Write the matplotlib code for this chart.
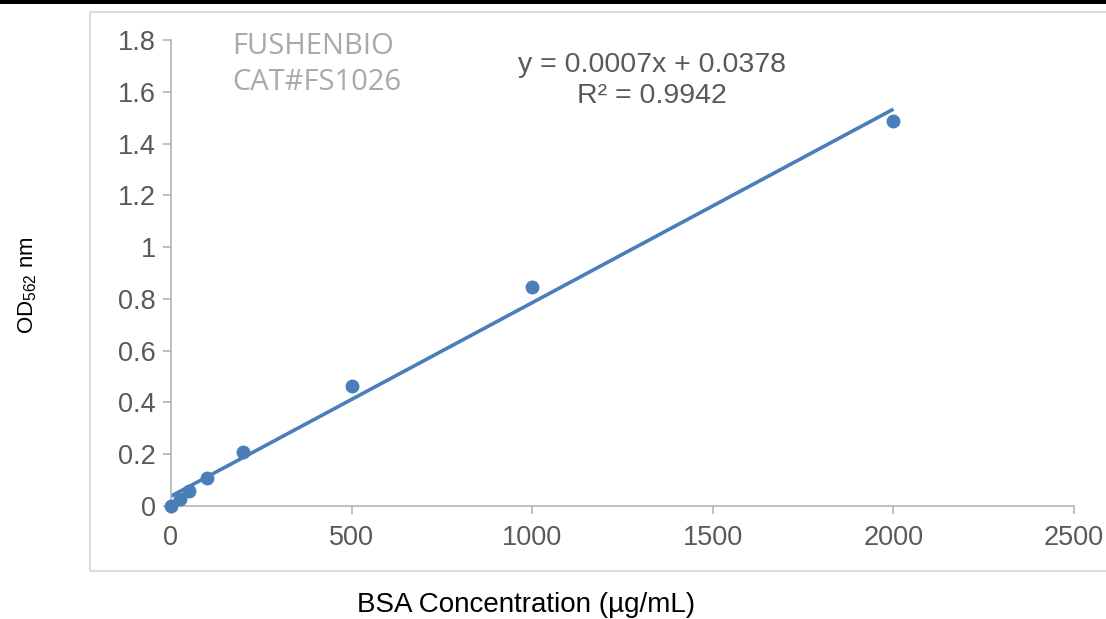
import numpy as np
import matplotlib
matplotlib.use("Agg")
import matplotlib.pyplot as plt
from matplotlib.patches import Rectangle

# standard curve data (BSA, ug/mL vs OD562)
conc = [0, 25, 50, 100, 200, 500, 1000, 2000]
od = [0.0, 0.027, 0.058, 0.11, 0.207, 0.464, 0.845, 1.489]
xticks = [0, 500, 1000, 1500, 2000, 2500]
yticks = [0, 0.2, 0.4, 0.6, 0.8, 1.0, 1.2, 1.4, 1.6, 1.8]
ytick_labels = ["0", "0.2", "0.4", "0.6", "0.8", "1", "1.2", "1.4", "1.6", "1.8"]
eq_text = "y = 0.0007x + 0.0378"
r2_text = "R\u00b2 = 0.9942"
brand = ["FUSHENBIO", "CAT#FS1026"]

plt.rcParams['font.family'] = ['Liberation Sans', 'DejaVu Sans']
plt.rcParams['mathtext.fontset'] = 'custom'
plt.rcParams['mathtext.rm'] = 'Liberation Sans'
plt.rcParams['mathtext.it'] = 'Liberation Sans'

blue = "#4a7ebb"
gray_txt = "#595959"
axis_col = "#b4b4b4"

fig = plt.figure(figsize=(11.06, 6.19), dpi=100)
fig.patch.set_facecolor("white")

# outer chart frame and black rule at the top
fig.patches.append(Rectangle((90/1106, 1-571/619), 1.0, (571-12)/619,
                             transform=fig.transFigure, fill=False,
                             edgecolor="#dcdcdc", lw=1.5))
fig.patches.append(Rectangle((0, 1-4/619), 1.0, 4/619, transform=fig.transFigure,
                             facecolor="black", edgecolor="none"))

ax = fig.add_axes([171/1106, 1-506/619, (1074-171)/1106, (506-40)/619])

slope, intercept = np.polyfit(conc, od, 1)
xfit = np.array([min(conc), max(conc)])
ax.plot(xfit, slope*xfit + intercept, color=blue, lw=2.6, solid_capstyle='butt', zorder=2)
ax.plot(conc, od, 'o', color=blue, ms=9, clip_on=False, zorder=3)

ax.set_xlim(0, 2500)
ax.set_ylim(0, 1.8)
ax.set_xticks(xticks)
ax.set_yticks(yticks)
ax.set_yticklabels(ytick_labels)

for s in ["top", "right"]:
    ax.spines[s].set_visible(False)
for s in ["left", "bottom"]:
    ax.spines[s].set_color(axis_col)
    ax.spines[s].set_linewidth(1.2)
ax.tick_params(axis='both', colors=axis_col, labelcolor=gray_txt, labelsize=19.5,
               length=6, width=1.2)
ax.tick_params(axis='y', pad=5)
ax.tick_params(axis='x', pad=8)

brand_font = ['Open Sans', 'DejaVu Sans']
ax.text(232/1106, 1-47/619, brand[0], transform=fig.transFigure, fontsize=21,
        color="#a9a9a9", family=brand_font, va='center', ha='left')
ax.text(232/1106, 1-83/619, brand[1], transform=fig.transFigure, fontsize=21,
        color="#a9a9a9", family=brand_font, va='center', ha='left')

ax.text(652/1106, 1-65/619, eq_text, transform=fig.transFigure, fontsize=20.5,
        color=gray_txt, ha='center', va='center')
ax.text(652/1106, 1-96/619, r2_text, transform=fig.transFigure, fontsize=20.5,
        color=gray_txt, ha='center', va='center')

fig.text(28/1106, 1-285/619, r"OD$_{562}$ nm", rotation=90, fontsize=16,
         color="black", ha='center', va='center')
fig.text(526/1106, 1-605/619, "BSA Concentration (\u00b5g/mL)", fontsize=20,
         color="black", ha='center', va='center')

fig.savefig("out.png", dpi=100)
